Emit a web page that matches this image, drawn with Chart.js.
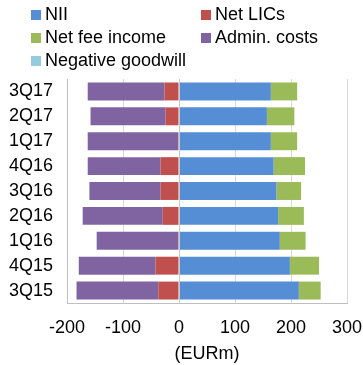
<!DOCTYPE html>
<html>
<head>
<meta charset="utf-8">
<script src="https://cdn.jsdelivr.net/npm/chart.js@4/dist/chart.umd.min.js"></script>
<style>
  body { margin: 0; background: #fff; }
  #wrap { position: relative; width: 363px; height: 365px; font-family: "Liberation Sans", Arial, sans-serif; }
  #legend .item { position: absolute; font-size: 18px; line-height: 20px; color: #000; white-space: nowrap; }
  #legend .box { display: inline-block; width: 10px; height: 10px; margin-right: 4px; vertical-align: 0px; }
</style>
</head>
<body>
<div id="wrap">
  <canvas id="chart" width="363" height="365"></canvas>
  <div id="legend"></div>
</div>
<script>
// Datos (EURm)
const quarters = ['3Q17', '2Q17', '1Q17', '4Q16', '3Q16', '2Q16', '1Q16', '4Q15', '3Q15'];
const nii = [164, 157, 164, 169, 174, 177, 180, 198, 214];
const netLics = [-26, -24, -1, -33, -33, -29, -1, -42, -37];
const netFee = [47, 49, 47, 56, 44, 46, 46, 52, 39];
const adminCosts = [-137, -134, -162, -130, -127, -143, -146, -137, -146];
const negGoodwill = [0, 0, 0, 0, 0, 0, 0, 0, 0];
const xTicks = [-200, -100, 0, 100, 200, 300];

const colors = ['#558ED5', '#C0504D', '#9BBB59', '#8064A2', '#93CDDD'];

// línea del cero por encima de las barras
const zeroLine = {
    id: 'zeroLine',
    afterDatasetsDraw(chart) {
        const x = Math.round(chart.scales.x.getPixelForValue(0)) + 0.5;
        const ctx = chart.ctx;
        ctx.save();
        ctx.strokeStyle = '#c8c8c8';
        ctx.lineWidth = 1;
        ctx.beginPath();
        ctx.moveTo(x, chart.chartArea.top);
        ctx.lineTo(x, chart.chartArea.bottom);
        ctx.stroke();
        ctx.restore();
    }
};

const chart = new Chart(document.getElementById('chart'), {
    type: 'bar',
    data: {
        labels: quarters,
        datasets: [
            { label: 'NII', data: nii, backgroundColor: colors[0] },
            { label: 'Net LICs', data: netLics, backgroundColor: colors[1] },
            { label: 'Net fee income', data: netFee, backgroundColor: colors[2] },
            { label: 'Admin. costs', data: adminCosts, backgroundColor: colors[3] },
            { label: 'Negative goodwill', data: negGoodwill, backgroundColor: colors[4] }
        ]
    },
    options: {
        indexAxis: 'y',
        responsive: false,
        animation: false,
        barPercentage: 0.72,
        categoryPercentage: 1,
        layout: { padding: { top: 79, right: 0, left: 0, bottom: 0 } },
        plugins: {
            legend: { display: false },
            tooltip: { enabled: false }
        },
        scales: {
            x: {
                stacked: true,
                min: -200,
                max: 300,
                afterBuildTicks: s => { s.ticks = xTicks.map(v => ({ value: v })); },
                ticks: {
                    color: '#000',
                    font: { family: '"Liberation Sans", Arial', size: 18 },
                    padding: 14,
                    maxRotation: 0
                },
                grid: { color: '#d9d9d9', drawTicks: false },
                border: { color: '#bfbfbf' },
                title: {
                    display: true,
                    text: '(EURm)',
                    color: '#000',
                    font: { family: '"Liberation Sans", Arial', size: 18 },
                    padding: { top: 4, bottom: 0 }
                },
                afterFit: s => { s.height = 62; s.paddingLeft = 0; s.paddingRight = 16; }
            },
            y: {
                stacked: true,
                ticks: {
                    color: '#000',
                    font: { family: '"Liberation Sans", Arial', size: 18 },
                    padding: 14
                },
                grid: { display: false, drawTicks: false },
                border: { color: '#bfbfbf' },
                afterFit: s => { s.width = 67; }
            }
        }
    },
    plugins: [zeroLine]
});

// leyenda en dos columnas
const legendPos = [[31, 4], [201, 4], [31, 27], [201, 27], [31, 50]];
const legend = document.getElementById('legend');
chart.data.datasets.forEach((ds, i) => {
    const item = document.createElement('div');
    item.className = 'item';
    item.style.left = legendPos[i][0] + 'px';
    item.style.top = legendPos[i][1] + 'px';
    item.innerHTML = '<span class="box" style="background:' + ds.backgroundColor + '"></span>' + ds.label;
    legend.appendChild(item);
});
</script>
</body>
</html>
